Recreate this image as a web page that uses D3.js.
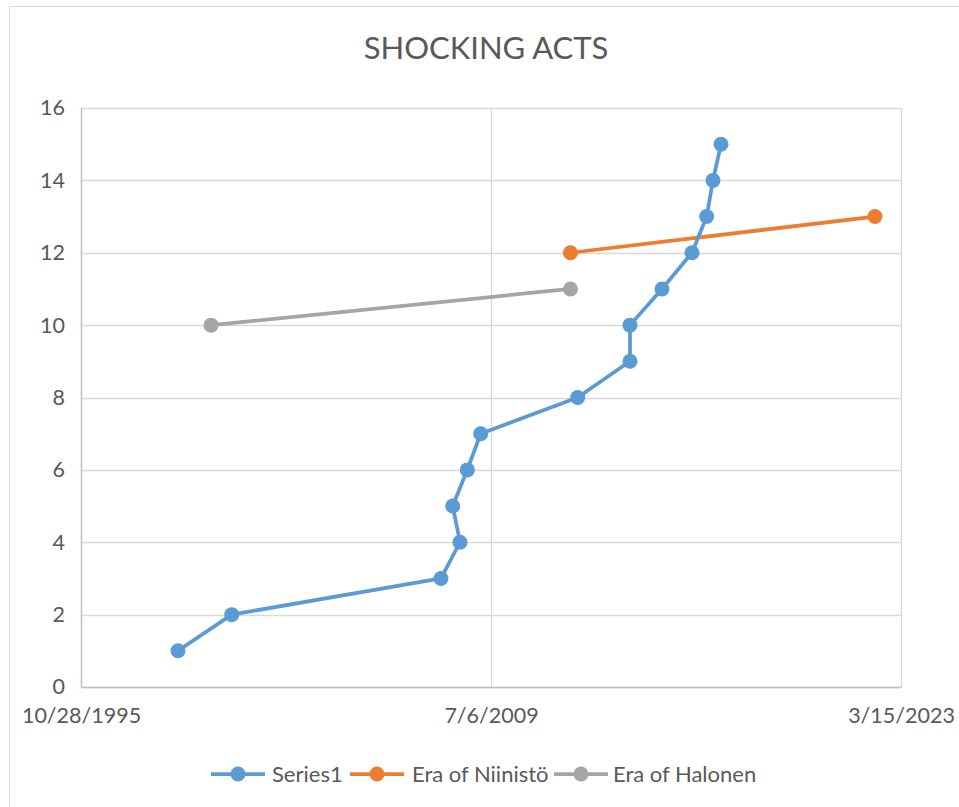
<!DOCTYPE html>
<html>
<head>
<meta charset="utf-8">
<script src="https://cdn.jsdelivr.net/npm/d3@7/dist/d3.min.js"></script>
<style>
  html, body { margin: 0; padding: 0; background: #fff; }
  svg { display: block; }
  text { font-family: Lato, "Open Sans", sans-serif; fill: #595959; }
</style>
</head>
<body>
<svg id="chart" width="959" height="807"></svg>
<script>
// ---- data ----
const chartTitle = "SHOCKING ACTS";
const series1Dates = ["1999-01-23","2000-11-08","2007-11-04","2008-06-23","2008-03-26","2008-09-20","2009-03-02",
                      "2012-05-28","2014-02-25","2014-02-25","2015-03-22","2016-03-22","2016-09-17","2016-12-03","2017-03-11"];
const series1Values = [1,2,3,4,5,6,7,8,9,10,11,12,13,14,15];
const niinistoDates = ["2012-03-01","2022-05-02"];
const niinistoValues = [12,13];
const halonenDates = ["2000-03-01","2012-03-01"];
const halonenValues = [10,11];
const seriesNames = ["Series1","Era of Niinistö","Era of Halonen"];
const seriesColors = ["#5B9BD5","#ED7D31","#A5A5A5"];
const xTickDates = ["1995-10-28","2009-07-06","2023-03-15"];
const yTicks = [0,2,4,6,8,10,12,14,16];

// ---- setup ----
const parse = d3.utcParse("%Y-%m-%d");
const fmt = d => `${d.getUTCMonth()+1}/${d.getUTCDate()}/${d.getUTCFullYear()}`;
const svg = d3.select("#chart");
const plot = {left: 81, right: 901, top: 108, bottom: 687};

const x = d3.scaleUtc()
  .domain([parse(xTickDates[0]), parse(xTickDates[xTickDates.length-1])])
  .range([plot.left, plot.right]);
const y = d3.scaleLinear().domain([0,16]).range([plot.bottom, plot.top]);

// chart border
svg.append("rect").attr("x",9.5).attr("y",6.5).attr("width",965).attr("height",815)
  .attr("fill","none").attr("stroke","#D9D9D9").attr("stroke-width",1);

// title
svg.append("text").attr("x",486).attr("y",59).attr("text-anchor","middle")
  .attr("font-size",31).text(chartTitle);

// gridlines
const grid = svg.append("g");
grid.selectAll("line.h").data(yTicks).join("line")
  .attr("x1",plot.left).attr("x2",plot.right)
  .attr("y1",d=>Math.round(y(d))+0.5).attr("y2",d=>Math.round(y(d))+0.5)
  .attr("stroke","#D9D9D9").attr("stroke-width",1.3);
grid.selectAll("line.v").data(xTickDates.map(parse)).join("line")
  .attr("x1",d=>Math.round(x(d))+0.5).attr("x2",d=>Math.round(x(d))+0.5)
  .attr("y1",plot.top).attr("y2",plot.bottom)
  .attr("stroke","#D9D9D9").attr("stroke-width",1.3);

// axes
const yAxis = svg.append("g").attr("transform",`translate(${plot.left},0)`)
  .call(d3.axisLeft(y).tickValues(yTicks).tickSize(0).tickPadding(16));
yAxis.select(".domain").attr("stroke","#BFBFBF").attr("stroke-width",1.3);
yAxis.selectAll("text").attr("font-size",21.5).attr("fill","#595959").attr("font-family","Lato, sans-serif");

const xAxis = svg.append("g").attr("transform",`translate(0,${plot.bottom})`)
  .call(d3.axisBottom(x).tickValues(xTickDates.map(parse)).tickFormat(fmt).tickSize(0).tickPadding(21));
xAxis.select(".domain").attr("stroke","#BFBFBF").attr("stroke-width",1.3);
xAxis.selectAll("text").attr("font-size",21.5).attr("fill","#595959").attr("font-family","Lato, sans-serif");

// series
const allSeries = [
  {name: seriesNames[0], color: seriesColors[0], pts: series1Dates.map((d,i)=>({d:parse(d), v:series1Values[i]}))},
  {name: seriesNames[1], color: seriesColors[1], pts: niinistoDates.map((d,i)=>({d:parse(d), v:niinistoValues[i]}))},
  {name: seriesNames[2], color: seriesColors[2], pts: halonenDates.map((d,i)=>({d:parse(d), v:halonenValues[i]}))}
];
const line = d3.line().x(p=>x(p.d)).y(p=>y(p.v));
// draw in reverse so Series1 sits on top
[2,1,0].forEach(i=>{
  const s = allSeries[i];
  const g = svg.append("g");
  g.append("path").attr("d",line(s.pts)).attr("fill","none")
    .attr("stroke",s.color).attr("stroke-width",3.75).attr("stroke-linejoin","round");
  g.selectAll("circle").data(s.pts).join("circle")
    .attr("cx",p=>x(p.d)).attr("cy",p=>y(p.v)).attr("r",7.5).attr("fill",s.color);
});

// legend
const legendItems = [
  {x0: 211, tx: 272},
  {x0: 350, tx: 412},
  {x0: 554, tx: 613}
];
const ly = 774;
const lg = svg.append("g");
allSeries.forEach((s,i)=>{
  const it = legendItems[i];
  lg.append("line").attr("x1",it.x0).attr("x2",it.x0+54).attr("y1",ly).attr("y2",ly)
    .attr("stroke",s.color).attr("stroke-width",3.75);
  lg.append("circle").attr("cx",it.x0+27).attr("cy",ly).attr("r",7.5).attr("fill",s.color);
  lg.append("text").attr("x",it.tx).attr("y",ly+8).attr("font-size",22).text(s.name);
});
</script>
</body>
</html>
